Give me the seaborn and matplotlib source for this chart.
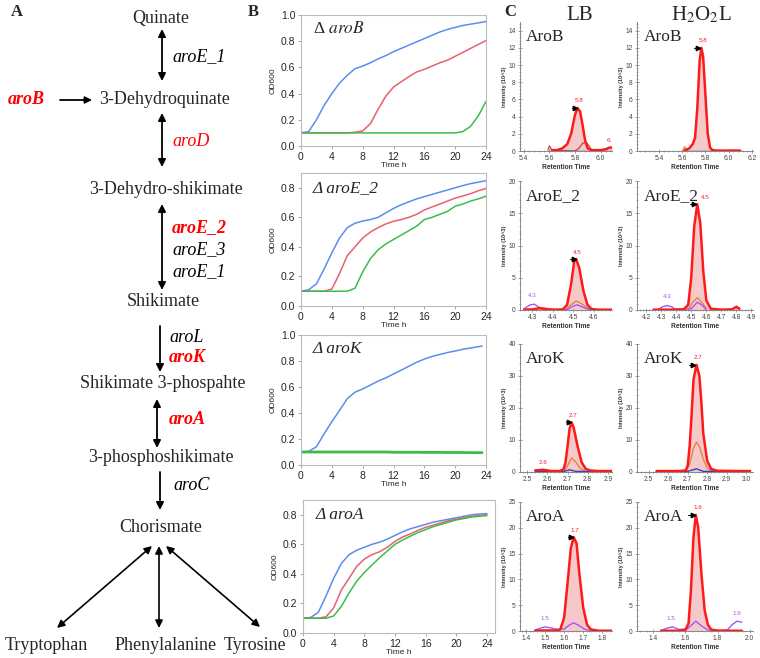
import matplotlib
matplotlib.use("Agg")
import matplotlib.pyplot as plt
from matplotlib.ticker import AutoMinorLocator, MultipleLocator
import pandas as pd
import seaborn as sns

# ------------------------
# DATA
# ------------------------
# panel A: pathway
nodes = ["Quinate", "3-Dehydroquinate", "3-Dehydro-shikimate", "Shikimate",
         "Shikimate 3-phospahte", "3-phosphoshikimate", "Chorismate"]
node_x = [161, 165, 166, 163, 163, 161, 161]
node_y = [18, 100, 190, 302, 383, 458, 528]
products = ["Tryptophan", "Phenylalanine", "Tyrosine"]
product_x = [46, 166, 255]
product_y = 645
# (x, y_start, y_end, style) of the vertical arrows between nodes
step_arrows = [(162, 29, 81, "<|-|>"), (162, 113, 167, "<|-|>"), (162, 204, 290, "<|-|>"),
               (160, 326, 372, "-|>"), (157, 399, 448, "<|-|>"), (160, 472, 510, "-|>")]
branch_arrows = [((152, 546), (57, 628)), ((159, 546), (159, 628)), ((166, 546), (260, 627))]
genes = [("aroE_1", 172, 57, "black", "normal"), ("aroB", 8, 100, "red", "bold"),
         ("aroD", 172, 142, "red", "normal"), ("aroE_2", 172, 228, "red", "bold"),
         ("aroE_3", 172, 250, "black", "normal"), ("aroE_1", 172, 272, "black", "normal"),
         ("aroL", 169, 337, "black", "normal"), ("aroK", 169, 358, "red", "bold"),
         ("aroA", 169, 420, "red", "bold"), ("aroC", 173, 485, "black", "normal")]

# panel B: growth curves (OD600 vs time h)
hours = list(range(25))
hours_k = list(range(24)) + [23.5]
aroB_blue = [0.10, 0.11, 0.20, 0.31, 0.40, 0.48, 0.54, 0.59, 0.61, 0.635, 0.665, 0.69, 0.72,
             0.745, 0.77, 0.795, 0.82, 0.845, 0.87, 0.89, 0.905, 0.92, 0.93, 0.94, 0.95]
aroB_red = [0.10, 0.10, 0.10, 0.10, 0.10, 0.10, 0.10, 0.105, 0.115, 0.17, 0.28, 0.38, 0.45,
            0.49, 0.53, 0.565, 0.585, 0.61, 0.635, 0.655, 0.685, 0.715, 0.745, 0.775, 0.805]
aroB_green = [0.10, 0.10, 0.10, 0.10, 0.10, 0.10, 0.10, 0.10, 0.10, 0.10, 0.10, 0.10, 0.10,
              0.10, 0.10, 0.10, 0.10, 0.10, 0.10, 0.10, 0.10, 0.11, 0.15, 0.23, 0.34]
aroE2_blue = [0.10, 0.11, 0.15, 0.25, 0.36, 0.46, 0.53, 0.56, 0.575, 0.585, 0.60, 0.63, 0.66,
              0.685, 0.705, 0.725, 0.74, 0.755, 0.77, 0.785, 0.80, 0.815, 0.828, 0.838, 0.848]
aroE2_red = [0.10, 0.10, 0.10, 0.10, 0.115, 0.22, 0.34, 0.40, 0.46, 0.50, 0.53, 0.555, 0.573,
             0.585, 0.60, 0.62, 0.65, 0.67, 0.69, 0.71, 0.73, 0.745, 0.76, 0.78, 0.795]
aroE2_green = [0.10, 0.10, 0.10, 0.10, 0.10, 0.10, 0.10, 0.12, 0.23, 0.32, 0.38, 0.42, 0.45,
               0.48, 0.51, 0.54, 0.585, 0.60, 0.62, 0.64, 0.675, 0.69, 0.71, 0.725, 0.743]
aroK_blue = [0.10, 0.105, 0.14, 0.24, 0.333, 0.42, 0.51, 0.56, 0.585, 0.615, 0.645, 0.67, 0.70,
             0.73, 0.76, 0.79, 0.815, 0.835, 0.85, 0.865, 0.877, 0.89, 0.90, 0.91, 0.915]
aroK_green = [0.10, 0.10, 0.10, 0.10, 0.10, 0.10, 0.10, 0.10, 0.10, 0.10, 0.10, 0.10, 0.098,
              0.098, 0.098, 0.098, 0.097, 0.097, 0.097, 0.096, 0.096, 0.096, 0.095, 0.095, 0.095]
aroA_blue = [0.10, 0.105, 0.14, 0.25, 0.37, 0.47, 0.53, 0.56, 0.58, 0.60, 0.615, 0.635, 0.66,
             0.685, 0.705, 0.72, 0.735, 0.75, 0.76, 0.77, 0.78, 0.79, 0.80, 0.805, 0.808]
aroA_red = [0.10, 0.10, 0.10, 0.11, 0.17, 0.29, 0.37, 0.45, 0.50, 0.53, 0.55, 0.58, 0.62,
            0.65, 0.67, 0.695, 0.715, 0.73, 0.745, 0.76, 0.77, 0.78, 0.79, 0.795, 0.80]
aroA_green = [0.10, 0.10, 0.10, 0.10, 0.115, 0.18, 0.27, 0.35, 0.41, 0.46, 0.51, 0.555, 0.60,
              0.63, 0.655, 0.68, 0.70, 0.72, 0.735, 0.75, 0.765, 0.775, 0.785, 0.79, 0.795]

# panel C: extracted ion chromatograms (intensity 10^3 vs retention time)
arob_lb_rt = [5.62, 5.66, 5.70, 5.74, 5.77, 5.80, 5.82, 5.84, 5.86, 5.88, 5.90, 5.93, 6.00, 6.04, 6.07, 6.09]
arob_lb_red = [0.1, 0.1, 0.3, 0.8, 2.0, 4.2, 5.0, 4.6, 3.0, 1.2, 0.3, 0.1, 0.1, 0.2, 0.4, 0.4]
arob_lb_org_rt = [5.59, 5.60, 5.62, 5.80, 5.83, 5.86, 5.89, 5.91, 5.93]
arob_lb_org = [0.1, 0.6, 0.1, 0.0, 0.3, 0.9, 1.0, 0.6, 0.1]
arob_lb_blue_rt = [5.60, 6.09]
arob_lb_blue = [0.05, 0.05]

arob_h_rt = [5.62, 5.66, 5.69, 5.71, 5.73, 5.75, 5.765, 5.78, 5.80, 5.82, 5.84, 5.86, 5.90, 6.10]
arob_h_red = [0.05, 0.3, 0.8, 1.5, 5.0, 10.5, 12.0, 11.0, 6.5, 2.0, 0.4, 0.1, 0.05, 0.05]
arob_h_org_rt = [5.61, 5.62, 5.64]
arob_h_org = [0.1, 0.5, 0.1]
arob_h_blue_rt = [5.62, 6.10]
arob_h_blue = [0.05, 0.05]

aroe_lb_rt = [4.26, 4.30, 4.34, 4.38, 4.42, 4.45, 4.47, 4.49, 4.505, 4.515, 4.53, 4.55, 4.57, 4.59, 4.62, 4.69]
aroe_lb_red = [0.05, 0.1, 0.3, 0.1, 0.05, 0.1, 0.8, 4.0, 7.5, 7.9, 6.5, 3.0, 0.8, 0.15, 0.05, 0.05]
aroe_lb_org_rt = [4.46, 4.49, 4.515, 4.54, 4.57, 4.60]
aroe_lb_org = [0.0, 0.8, 1.4, 1.0, 0.3, 0.0]
aroe_lb_pur_rt = [4.26, 4.29, 4.31, 4.33, 4.35, 4.47, 4.50, 4.52, 4.55, 4.58, 4.69]
aroe_lb_pur = [0.2, 0.8, 0.9, 0.5, 0.05, 0.05, 0.6, 0.8, 0.4, 0.05, 0.05]

aroe_h_rt = [4.25, 4.35, 4.45, 4.48, 4.50, 4.52, 4.54, 4.56, 4.58, 4.60, 4.63, 4.70, 4.77, 4.80, 4.82]
aroe_h_red = [0.05, 0.05, 0.1, 0.8, 5.0, 13.0, 16.4, 13.5, 6.0, 1.5, 0.2, 0.05, 0.1, 0.5, 0.2]
aroe_h_org_rt = [4.48, 4.51, 4.54, 4.57, 4.60]
aroe_h_org = [0.0, 1.2, 1.9, 1.2, 0.2]
aroe_h_pur_rt = [4.28, 4.31, 4.34, 4.37, 4.40, 4.50, 4.54, 4.57, 4.60]
aroe_h_pur = [0.1, 0.5, 0.7, 0.5, 0.05, 0.2, 1.2, 0.8, 0.05]

arok_lb_rt = [2.54, 2.58, 2.62, 2.66, 2.68, 2.69, 2.70, 2.71, 2.72, 2.73, 2.75, 2.77, 2.79, 2.81, 2.85, 2.92]
arok_lb_red = [0.5, 0.7, 0.3, 0.3, 0.8, 3.0, 8.0, 13.5, 15.5, 14.0, 8.0, 3.0, 1.0, 0.5, 0.3, 0.3]
arok_lb_org_rt = [2.68, 2.70, 2.72, 2.74, 2.76, 2.79]
arok_lb_org = [0.0, 2.0, 4.4, 3.2, 1.3, 0.2]
arok_lb_blue_rt = [2.54, 2.68, 2.71, 2.74, 2.92]
arok_lb_blue = [0.1, 0.1, 0.7, 0.2, 0.1]

arok_h_rt = [2.54, 2.60, 2.66, 2.69, 2.70, 2.71, 2.72, 2.73, 2.745, 2.76, 2.77, 2.78, 2.80, 2.82, 2.85, 2.95, 3.02]
arok_h_red = [0.3, 0.3, 0.3, 0.5, 2.0, 8.0, 18.0, 29.0, 33.5, 30.0, 22.0, 12.0, 3.5, 1.0, 0.4, 0.3, 0.3]
arok_h_org_rt = [2.69, 2.71, 2.73, 2.745, 2.76, 2.78, 2.80, 2.83]
arok_h_org = [0.0, 2.5, 7.5, 9.3, 8.0, 4.0, 1.2, 0.2]
arok_h_blue_rt = [2.54, 2.70, 2.745, 2.78, 3.02]
arok_h_blue = [0.1, 0.2, 1.0, 0.2, 0.1]

aroa_lb_rt = [1.45, 1.52, 1.56, 1.58, 1.60, 1.62, 1.635, 1.65, 1.665, 1.68, 1.70, 1.72, 1.74, 1.78, 1.85]
aroa_lb_red = [0.1, 0.1, 0.1, 0.3, 2.5, 10.0, 16.0, 18.2, 17.0, 11.0, 4.5, 1.2, 0.3, 0.05, 0.05]
aroa_lb_pur_rt = [1.45, 1.48, 1.50, 1.53, 1.57, 1.60, 1.63, 1.65, 1.68, 1.71, 1.74]
aroa_lb_pur = [0.2, 0.6, 0.8, 0.6, 0.3, 0.4, 1.2, 1.6, 1.0, 0.3, 0.1]

aroa_h_rt = [1.45, 1.55, 1.60, 1.62, 1.635, 1.65, 1.665, 1.68, 1.70, 1.72, 1.74, 1.76, 1.80, 1.95]
aroa_h_red = [0.05, 0.05, 0.2, 1.5, 8.0, 18.0, 22.5, 20.0, 11.0, 4.0, 1.2, 0.3, 0.05, 0.05]
aroa_h_pur_rt = [1.45, 1.49, 1.52, 1.56, 1.61, 1.64, 1.665, 1.70, 1.74, 1.80, 1.86, 1.89, 1.92, 1.95]
aroa_h_pur = [0.1, 0.6, 0.8, 0.3, 0.4, 1.2, 1.9, 1.0, 0.2, 0.1, 0.2, 1.2, 1.9, 1.7]

# ------------------------
# STYLE
# ------------------------
sns.set_theme(style="ticks")
plt.rcParams["font.family"] = ["Liberation Sans", "DejaVu Sans"]
plt.rcParams["mathtext.fontset"] = "stix"
SERIF = ["Liberation Serif", "DejaVu Serif"]
C_BLUE, C_RED, C_GREEN = "#5b8def", "#e8606e", "#3dbb4a"
C_PEAK, C_FILL, C_ORG, C_PUR, C_BASE = "#ff1a1a", "#f2b8b8", "#e8823c", "#a855f7", "#3344cc"

W, H = 760, 658
fig = plt.figure(figsize=(W / 100, H / 100), dpi=100)


def px_axes(left, top, right, bottom):
    return fig.add_axes([left / W, 1 - bottom / H, (right - left) / W, (bottom - top) / H])


# ------------------------
# Panel A (pixel-coordinate overlay)
# ------------------------
axA = fig.add_axes([0, 0, 1, 1])
axA.set_xlim(0, W)
axA.set_ylim(H, 0)
axA.axis("off")

for name, x, y in zip(nodes, node_x, node_y):
    axA.text(x, y, name, family=SERIF, fontsize=13, ha="center", va="center")
for name, x in zip(products, product_x):
    axA.text(x, product_y, name, family=SERIF, fontsize=13, ha="center", va="center")
for x, y0, y1, style in step_arrows:
    axA.annotate("", xy=(x, y1), xytext=(x, y0),
                 arrowprops=dict(arrowstyle=style, color="black", lw=1.3, mutation_scale=11,
                                 shrinkA=0, shrinkB=0))
for (x0, y0), (x1, y1) in branch_arrows:
    axA.annotate("", xy=(x1, y1), xytext=(x0, y0),
                 arrowprops=dict(arrowstyle="<|-|>", color="black", lw=1.2, mutation_scale=11,
                                 shrinkA=0, shrinkB=0))
axA.annotate("", xy=(92, 100), xytext=(60, 100),
             arrowprops=dict(arrowstyle="-|>", color="black", lw=1.3, mutation_scale=10,
                             shrinkA=0, shrinkB=0))
for text, x, y, col, wt in genes:
    axA.text(x, y, text, family=SERIF, fontsize=13, style="italic", color=col,
             fontweight=wt, ha="left", va="center")

axA.text(17, 12, "A", family=SERIF, fontsize=12, fontweight="bold", ha="center", va="center")
axA.text(253, 12, "B", family=SERIF, fontsize=12, fontweight="bold", ha="center", va="center")
axA.text(510, 12, "C", family=SERIF, fontsize=12, fontweight="bold", ha="center", va="center")
axA.text(580, 15, "LB", family=SERIF, fontsize=15, ha="center", va="center")
axA.text(701, 15, r"H$_2$O$_2$L", family=SERIF, fontsize=15, ha="center", va="center")

# ------------------------
# Panel B (growth curves)
# ------------------------
growth = [
    (r"Δ $\it{aroB}$", hours, [aroB_blue, aroB_red, aroB_green], (301, 15, 486, 146), 1.0),
    ("Δ aroE_2", hours, [aroE2_blue, aroE2_red, aroE2_green], (301, 173, 486, 306), 0.9),
    ("Δ aroK", hours_k, [aroK_blue, None, aroK_green], (301, 335, 486, 465), 1.0),
    ("Δ aroA", hours, [aroA_blue, aroA_red, aroA_green], (303, 500, 495, 633), 0.9),
]
for i, (title, t, series, box, ytop) in enumerate(growth):
    ax = px_axes(*box)
    for vals, col in zip(series, [C_BLUE, C_RED, C_GREEN]):
        if vals is None:
            continue
        lw = 2.0 if (i == 2 and col == C_GREEN) else 1.1
        sns.lineplot(x=t, y=vals, ax=ax, color=col, lw=lw, estimator=None, sort=False)
    ax.set_xlim(0, 25.05 if i == 3 else 24)
    ax.set_ylim(0, ytop)
    ax.xaxis.set_major_locator(MultipleLocator(4))
    ax.yaxis.set_major_locator(MultipleLocator(0.2))
    ax.yaxis.set_major_formatter(plt.FormatStrFormatter("%.1f"))
    for s in ax.spines.values():
        s.set_color("#bbbbbb")
        s.set_linewidth(0.8)
    ax.tick_params(labelsize=7.5, length=2.5, width=0.6, color="#999999", pad=1.5)
    ax.set_xlabel("Time h", fontsize=6, labelpad=0)
    ax.set_ylabel("OD600", fontsize=6, labelpad=3)
    ax.text(0.065, 0.89, title, transform=ax.transAxes, family=SERIF, fontsize=12.5,
            style="normal" if i == 0 else "italic", ha="left", va="center")

# ------------------------
# Panel C (chromatograms)
# ------------------------
col_lb = (520, 612)
col_h = (637, 753)
chroms = [
    # label, xrange, xbox, ybox, ymax, ystep, xstep, main trace, extras, peak label, extra labels
    ("AroB", (5.37, 6.09), col_lb, (22, 151), 15, 2, 0.2, (arob_lb_rt, arob_lb_red),
     [(arob_lb_org_rt, arob_lb_org, "#c0504d"), (arob_lb_blue_rt, arob_lb_blue, C_BASE)],
     "5.8", [("6.", 6.07, 0.9, C_PEAK)]),
    ("AroB", (5.21, 6.21), col_h, (22, 151), 15, 2, 0.2, (arob_h_rt, arob_h_red),
     [(arob_h_org_rt, arob_h_org, C_ORG), (arob_h_blue_rt, arob_h_blue, C_BASE)],
     "5.8", []),
    ("AroE_2", (4.24, 4.69), col_lb, (181, 310), 20, 5, 0.1, (aroe_lb_rt, aroe_lb_red),
     [(aroe_lb_org_rt, aroe_lb_org, C_ORG), (aroe_lb_pur_rt, aroe_lb_pur, C_PUR)],
     "4.5", [("4.3", 4.30, 1.9, C_PUR)]),
    ("AroE_2", (4.14, 4.91), col_h, (181, 310), 20, 5, 0.1, (aroe_h_rt, aroe_h_red),
     [(aroe_h_org_rt, aroe_h_org, C_ORG), (aroe_h_pur_rt, aroe_h_pur, C_PUR)],
     "4.5", [("4.3", 4.34, 1.7, C_PUR)]),
    ("AroK", (2.465, 2.92), col_lb, (344, 472), 40, 10, 0.1, (arok_lb_rt, arok_lb_red),
     [(arok_lb_org_rt, arok_lb_org, C_ORG), (arok_lb_blue_rt, arok_lb_blue, C_BASE)],
     "2.7", [("2.6", 2.58, 2.3, C_PEAK)]),
    ("AroK", (2.44, 3.035), col_h, (344, 472), 40, 10, 0.1, (arok_h_rt, arok_h_red),
     [(arok_h_org_rt, arok_h_org, C_ORG), (arok_h_blue_rt, arok_h_blue, C_BASE)],
     "2.7", []),
    ("AroA", (1.37, 1.85), col_lb, (502, 631), 25, 5, 0.1, (aroa_lb_rt, aroa_lb_red),
     [(aroa_lb_pur_rt, aroa_lb_pur, C_PUR)],
     "1.7", [("1.5", 1.50, 1.9, C_PUR)]),
    ("AroA", (1.30, 2.02), col_h, (502, 631), 25, 5, 0.2, (aroa_h_rt, aroa_h_red),
     [(aroa_h_pur_rt, aroa_h_pur, C_PUR)],
     "1.6", [("1.5", 1.51, 1.9, C_PUR), ("1.9", 1.92, 3.0, C_PUR)]),
]
for label, xr, xb, yb, ymax, ystep, xstep, (rt, inten), extras, plabel, elabels in chroms:
    ax = px_axes(xb[0], yb[0], xb[1], yb[1])
    ax.fill_between(rt, inten, 0, color=C_FILL, alpha=0.75, lw=0)
    for ex_rt, ex_val, col in extras:
        sns.lineplot(x=ex_rt, y=ex_val, ax=ax, color=col, lw=1.0, estimator=None, sort=False)
    sns.lineplot(x=rt, y=inten, ax=ax, color=C_PEAK, lw=1.8, estimator=None, sort=False)
    ax.set_xlim(*xr)
    ax.set_ylim(0, ymax)
    ax.xaxis.set_major_locator(MultipleLocator(xstep))
    ax.xaxis.set_major_formatter(plt.FormatStrFormatter("%.1f"))
    ax.yaxis.set_major_locator(MultipleLocator(ystep))
    ax.xaxis.set_minor_locator(AutoMinorLocator(5))
    ax.yaxis.set_minor_locator(AutoMinorLocator(5))
    sns.despine(ax=ax)
    for s in ("left", "bottom"):
        ax.spines[s].set_color("#888888")
        ax.spines[s].set_linewidth(0.7)
    ax.tick_params(which="major", direction="inout", length=3, width=0.5, color="#777777",
                   labelsize=4.8, labelcolor="#444444", pad=1.5)
    ax.tick_params(which="minor", direction="inout", length=1.6, width=0.4, color="#777777")
    ax.set_xlabel("Retention Time", fontsize=4.8, fontweight="bold", color="#333333", labelpad=1.5)
    ax.set_ylabel("Intensity (10^3)", fontsize=4, fontweight="bold", color="#333333", labelpad=1)
    # peak apex marker and label
    imax = inten.index(max(inten))
    px, py = rt[imax], inten[imax]
    dx = 0.045 * (xr[1] - xr[0])
    ax.plot([px - dx * 1.4, px - dx * 0.6], [py, py], color="black", lw=0.7)
    ax.plot(px - dx * 0.6, py, marker=">", color="black", ms=3.2)
    shift = 0.6 if label == "AroE_2" and ymax == 20 and xr[0] < 4.2 else 0.3
    ax.text(px + dx * shift, py + 0.035 * ymax, plabel, color=C_PEAK, fontsize=4.5,
            ha="left" if shift > 0.5 else "center", va="bottom")
    for txt, lx, ly, col in elabels:
        ax.text(lx, ly, txt, color=col, fontsize=4.5, ha="center", va="bottom")
    ax.text(0.06, 0.88, label, transform=ax.transAxes, family=SERIF, fontsize=12.5,
            ha="left", va="center")

fig.savefig("out.png", dpi=100)
